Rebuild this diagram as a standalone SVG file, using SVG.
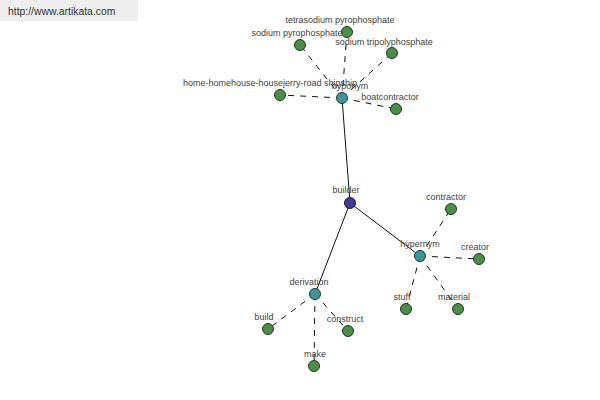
<svg xmlns="http://www.w3.org/2000/svg" width="600" height="400" viewBox="0 0 600 400">
<style>
.lbl{font-family:"Liberation Sans",Arial,sans-serif;font-size:9px;fill:#444;text-anchor:middle}
.leaf{fill:#4e8c4a;stroke:#1e3a1e;stroke-width:1}
.mid{fill:#3f9595;stroke:#1e3a3a;stroke-width:1}
.root{fill:#3d3d8f;stroke:#1a1a40;stroke-width:1}
.solid{stroke:#111;stroke-width:1;fill:none}
.dash{stroke:#111;stroke-width:1;fill:none;stroke-dasharray:6,6}
</style>
<rect x="0" y="0" width="138" height="21" fill="#eeeeee"/>
<text x="8" y="15" style="font-family:'Liberation Sans',Arial,sans-serif;font-size:10.4px;fill:#333">http://www.artikata.com</text>
<g id="connectors">
<line class="solid" x1="350" y1="203" x2="342" y2="98"/>
<line class="solid" x1="350" y1="203" x2="420" y2="256"/>
<line class="solid" x1="350" y1="203" x2="315" y2="294"/>
<line class="dash" x1="342" y1="98" x2="347" y2="32"/>
<line class="dash" x1="342" y1="98" x2="300" y2="45"/>
<line class="dash" x1="342" y1="98" x2="392" y2="53"/>
<line class="dash" x1="342" y1="98" x2="280" y2="95"/>
<line class="dash" x1="342" y1="98" x2="396" y2="109"/>
<line class="dash" x1="420" y1="256" x2="451" y2="209"/>
<line class="dash" x1="420" y1="256" x2="479" y2="259"/>
<line class="dash" x1="420" y1="256" x2="406" y2="309"/>
<line class="dash" x1="420" y1="256" x2="458" y2="309"/>
<line class="dash" x1="315" y1="294" x2="268" y2="329"/>
<line class="dash" x1="315" y1="294" x2="348" y2="331"/>
<line class="dash" x1="315" y1="294" x2="314" y2="366"/>
</g>
<g id="n-tetra"><circle class="leaf" cx="347" cy="32" r="5.5"/><text class="lbl" x="340" y="23">tetrasodium pyrophosphate</text></g>
<g id="n-sodpyro"><circle class="leaf" cx="300" cy="45" r="5.5"/><text class="lbl" x="297" y="36">sodium pyrophosphate</text></g>
<g id="n-sodtri"><circle class="leaf" cx="392" cy="53" r="5.5"/><text class="lbl" x="384" y="45">sodium tripolyphosphate</text></g>
<g id="n-home"><circle class="leaf" cx="280" cy="95" r="5.5"/><text class="lbl" x="270" y="86">home-homehouse-housejerry-road shipship</text></g>
<g id="n-boat"><circle class="leaf" cx="396" cy="109" r="5.5"/><text class="lbl" x="390" y="100">boatcontractor</text></g>
<g id="n-hyponym"><circle class="mid" cx="342" cy="98" r="5.5"/><text class="lbl" x="350" y="89">hyponym</text></g>
<g id="n-builder"><circle class="root" cx="350" cy="203" r="5.5"/><text class="lbl" x="346" y="193">builder</text></g>
<g id="n-hypernym"><circle class="mid" cx="420" cy="256" r="5.5"/><text class="lbl" x="420" y="247">hypernym</text></g>
<g id="n-contractor"><circle class="leaf" cx="451" cy="209" r="5.5"/><text class="lbl" x="446" y="200">contractor</text></g>
<g id="n-creator"><circle class="leaf" cx="479" cy="259" r="5.5"/><text class="lbl" x="475" y="250">creator</text></g>
<g id="n-stuff"><circle class="leaf" cx="406" cy="309" r="5.5"/><text class="lbl" x="402" y="300">stuff</text></g>
<g id="n-material"><circle class="leaf" cx="458" cy="309" r="5.5"/><text class="lbl" x="454" y="300">material</text></g>
<g id="n-derivation"><circle class="mid" cx="315" cy="294" r="5.5"/><text class="lbl" x="309" y="285">derivation</text></g>
<g id="n-build"><circle class="leaf" cx="268" cy="329" r="5.5"/><text class="lbl" x="264" y="320">build</text></g>
<g id="n-construct"><circle class="leaf" cx="348" cy="331" r="5.5"/><text class="lbl" x="345" y="322">construct</text></g>
<g id="n-make"><circle class="leaf" cx="314" cy="366" r="5.5"/><text class="lbl" x="315" y="357">make</text></g>
</svg>
